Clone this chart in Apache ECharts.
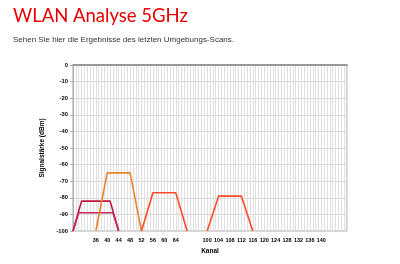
<!DOCTYPE html>
<html>
<head>
<meta charset="utf-8">
<script src="https://cdn.jsdelivr.net/npm/echarts@6/dist/echarts.min.js"></script>
<style>
html,body{margin:0;padding:0;background:#fff;}
#c{width:400px;height:264px;}
</style>
</head>
<body>
<div id="c"></div>
<script>
// Channel categories (axis): 28..69, then 95..149 (the gap between 64 and 100 is compressed)
function range(a, b) { const r = []; for (let i = a; i <= b; i++) r.push(String(i)); return r; }
const channels = [].concat(range(28, 69), range(95, 149));
const tickLabels = ['36','40','44','48','52','56','60','64','100','104','108','112','116','120','124','128','132','136','140'];

// Networks: [channel, signal dBm]
const net1 = [['28', -100], ['31', -82], ['41', -82], ['44', -100]];
const net2 = [['28', -100], ['30', -89], ['42', -89], ['44', -100]];
const net3 = [['36', -100], ['40', -65], ['48', -65], ['52', -100]];
const net4 = [['52', -100], ['56', -77], ['64', -77], ['68', -100]];
const net5 = [['100', -100], ['104', -79], ['112', -79], ['116', -100]];

const netColors = ['#c0183e', '#c4285a', '#e8842c', '#ff4a2a', '#ff4a2a'];
const nets = [net1, net2, net3, net4, net5];

const chart = echarts.init(document.getElementById('c'), null, { renderer: 'canvas' });
const FONT = '"Liberation Sans", Arial, sans-serif';
chart.setOption({
  animation: false,
  backgroundColor: '#fff',
  title: {
    text: 'WLAN Analyse 5GHz',
    subtext: 'Sehen Sie hier die Ergebnisse des letzten Umgebungs-Scans.',
    left: 13,
    top: 7,
    padding: 0,
    itemGap: 10,
    textStyle: { color: '#e60000', fontSize: 18.5, fontWeight: 'normal', fontFamily: 'Lato, sans-serif' },
    subtextStyle: { color: '#333', fontSize: 8, fontFamily: FONT }
  },
  grid: { left: 73, right: 53, top: 65, bottom: 33, show: true, borderColor: '#a0a0a0', borderWidth: 1 },
  xAxis: {
    type: 'category',
    data: channels,
    boundaryGap: false,
    name: 'Kanal',
    nameLocation: 'middle',
    nameGap: 15,
    nameTextStyle: { fontSize: 6.5, fontWeight: 'bold', color: '#000', fontFamily: FONT },
    axisLine: { lineStyle: { color: '#9a9a9a', width: 2 } },
    axisTick: { show: false },
    axisLabel: {
      interval: function (i, v) { return tickLabels.indexOf(v) >= 0; },
      fontSize: 5.5, fontWeight: 'bold', color: '#000', margin: 6, fontFamily: FONT
    },
    splitLine: { show: true, interval: 0, lineStyle: { color: '#e0e0e0', width: 1 } }
  },
  yAxis: {
    type: 'value',
    min: -100, max: 0, interval: 10,
    name: 'Signalstärke (dBm)',
    nameLocation: 'middle',
    nameRotate: 90,
    nameGap: 23,
    nameTextStyle: { fontSize: 6.5, fontWeight: 'bold', color: '#000', fontFamily: FONT },
    axisLine: { show: true, lineStyle: { color: '#b0b0b0' } },
    axisTick: { show: true, length: 3, lineStyle: { color: '#b0b0b0' } },
    axisLabel: { fontSize: 5.8, fontWeight: 'bold', color: '#000', margin: 5, fontFamily: FONT },
    splitLine: { show: true, lineStyle: { color: '#d8d8d8' } }
  },
  series: nets.map(function (d, i) {
    return {
      type: 'line',
      data: d,
      symbol: 'none',
      lineStyle: { color: netColors[i], width: 1.6 },
      z: 3
    };
  })
});
</script>
</body>
</html>
